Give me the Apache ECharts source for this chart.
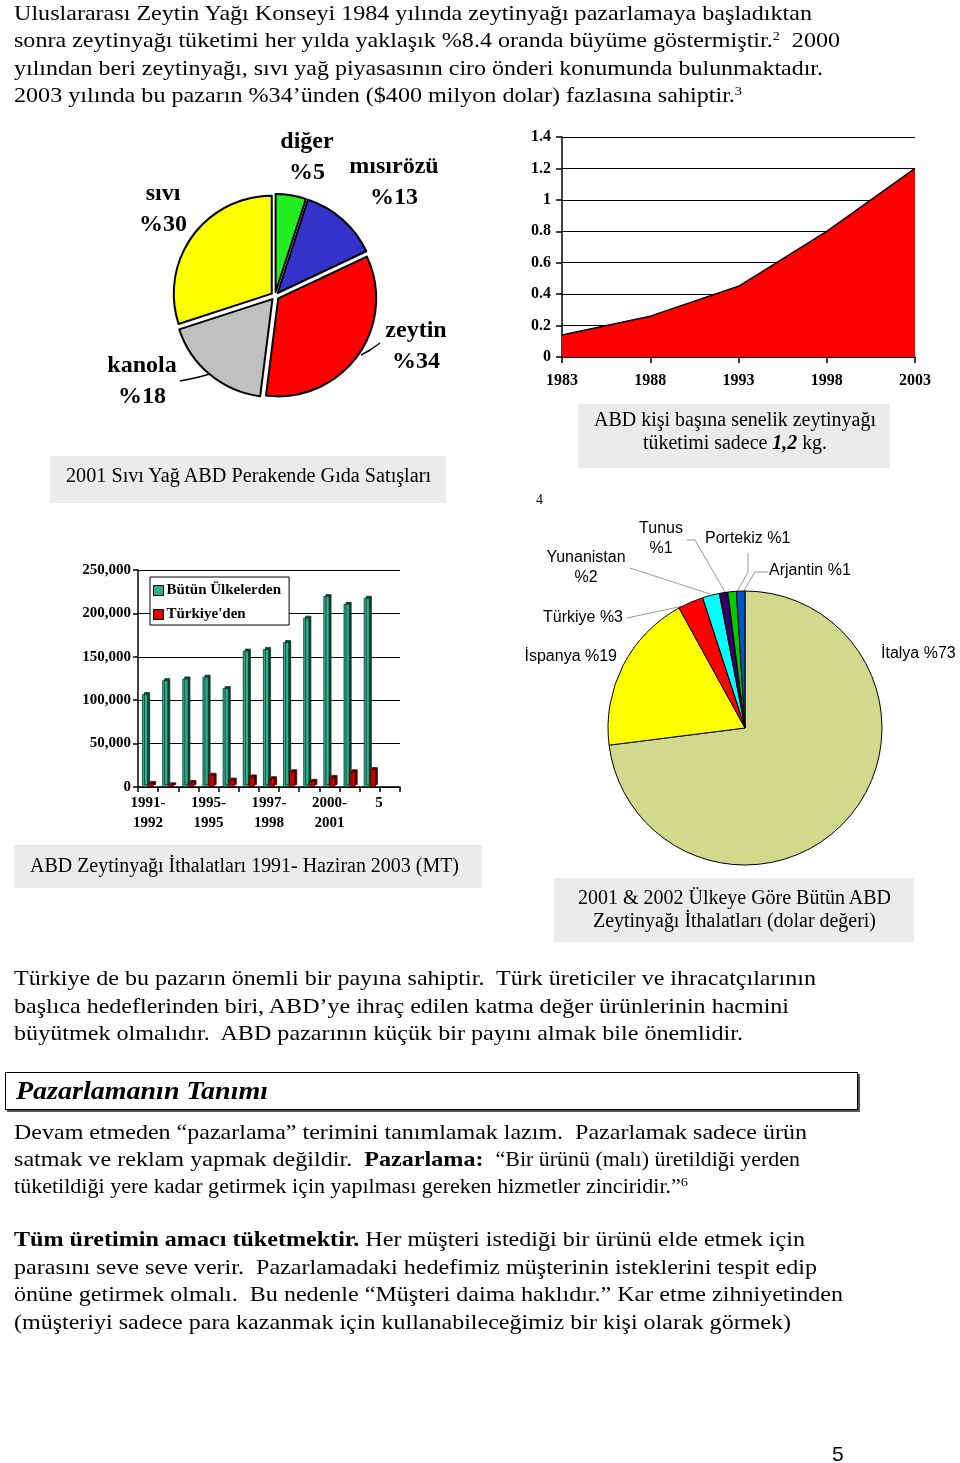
<!DOCTYPE html>
<html><head><meta charset="utf-8">
<script src="https://cdn.jsdelivr.net/npm/echarts@6/dist/echarts.min.js"></script>
<style>
html,body{margin:0;padding:0;background:#fff;}
#page{position:relative;width:960px;height:1463px;overflow:hidden;background:#fff;}
#chart{position:absolute;left:0;top:0;width:960px;height:1463px;}
#txt{position:absolute;left:0;top:0;width:960px;height:1463px;pointer-events:none;}
.ln{position:absolute;white-space:pre;transform-origin:0 50%;font-family:'Liberation Serif','Times New Roman',serif;color:#000;}
.sup{position:relative;top:-0.55em;font-size:13px;}
.box{position:absolute;background:#ebebeb;}
.hbox{position:absolute;border:1.5px solid #000;box-shadow:2px 2px 0 #555;background:#fff;}
</style></head><body>
<div id="page"><div id="chart"></div><div id="txt"></div></div>
<script>
// ---------- DATA ----------
const oilCategories = ['diğer', 'mısırözü', 'zeytin', 'kanola', 'sıvı'];
const oilShares = [5, 13, 34, 18, 30];

const consYears = ['1983', '1988', '1993', '1998', '2003'];
const consValues = [0.14, 0.26, 0.45, 0.80, 1.20];

const importSlots = ['s1','s2','s3','s4','s5','s6','s7','s8','s9','s10','s11','s12','s13'];
const importTickLabels = ['1991-\n1992','','','1995-\n1995','','','1997-\n1998','','','2000-\n2001','','','5'];
const importAllSeriesName = 'Bütün Ülkelerden';
const importTurkeySeriesName = "Türkiye'den";
const importAll = [107000, 123000, 125000, 127000, 114000, 157000, 159000, 167000, 195000, 220000, 211000, 218000, null];
const importTurkey = [4600, 3000, 5700, 14000, 8400, 12000, 10000, 18000, 7000, 11500, 18000, 20500, null];

const countryNames = ['İtalya', 'İspanya', 'Türkiye', 'Yunanistan', 'Tunus', 'Portekiz', 'Arjantin'];
const countryShares = [73, 19, 3, 2, 1, 1, 1];

const bodyText = [
  'Uluslararası Zeytin Yağı Konseyi 1984 yılında zeytinyağı pazarlamaya başladıktan',
  'sonra zeytinyağı tüketimi her yılda yaklaşık %8.4 oranda büyüme göstermiştir.<span class="sup">2</span>  2000',
  'yılından beri zeytinyağı, sıvı yağ piyasasının ciro önderi konumunda bulunmaktadır.',
  '2003 yılında bu pazarın %34’ünden ($400 milyon dolar) fazlasına sahiptir.<span class="sup">3</span>',
  'Türkiye de bu pazarın önemli bir payına sahiptir.  Türk üreticiler ve ihracatçılarının',
  'başlıca hedeflerinden biri, ABD’ye ihraç edilen katma değer ürünlerinin hacmini',
  'büyütmek olmalıdır.  ABD pazarının küçük bir payını almak bile önemlidir.',
  '<b><i>Pazarlamanın Tanımı</i></b>',
  'Devam etmeden “pazarlama” terimini tanımlamak lazım.  Pazarlamak sadece ürün',
  'satmak ve reklam yapmak değildir.  <b>Pazarlama:</b>  <span style="font-size:20px">“Bir ürünü (malı) üretildiği yerden</span>',
  'tüketildiği yere kadar getirmek için yapılması gereken hizmetler zinciridir.”<span class="sup">6</span>',
  '<b>Tüm üretimin amacı tüketmektir.</b> Her müşteri istediği bir ürünü elde etmek için',
  'parasını seve seve verir.  Pazarlamadaki hedefimiz müşterinin isteklerini tespit edip',
  'önüne getirmek olmalı.  Bu nedenle “Müşteri daima haklıdır.” Kar etme zihniyetinden',
  '(müşteriyi sadece para kazanmak için kullanabileceğimiz bir kişi olarak görmek)',
  '2001 Sıvı Yağ ABD Perakende Gıda Satışları',
  'ABD kişi başına senelik zeytinyağı',
  'tüketimi sadece <b><i>1,2</i></b> kg.',
  'ABD Zeytinyağı İthalatları 1991- Haziran 2003 (MT)',
  '2001 &amp; 2002 Ülkeye Göre Bütün ABD',
  'Zeytinyağı İthalatları (dolar değeri)'
];

// ---------- LAYOUT (positions / sizes) ----------
// [left, centerY, width, fontSize]
const bodyLayout = [
  [14, 13, 798, 22], [14, 40, 826, 22], [14, 68, 809, 22], [14, 95, 728, 22],
  [14, 978, 802, 22], [14, 1006, 775, 22], [14, 1033, 729, 22],
  [16, 1091, 252, 26],
  [14, 1132, 793, 22], [14, 1159, 786, 22], [14, 1186, 674, 20],
  [14, 1239, 791, 22], [14, 1267, 803, 22], [14, 1294, 829, 22], [14, 1322, 777, 22],
  [66, 475, 365, 20],
  [594, 419, 282, 20], [643, 442, 184, 20],
  [30, 865, 429, 20],
  [578, 897, 313, 20], [593, 920, 283, 20]
];
const grayBoxes = [[50, 456, 396, 47], [578, 404, 312, 64], [14, 845, 468, 43], [554, 878, 360, 64]];

const txt = document.getElementById('txt');
grayBoxes.forEach(b => {
  const d = document.createElement('div');
  d.className = 'box';
  d.style.cssText = `left:${b[0]}px;top:${b[1]}px;width:${b[2]}px;height:${b[3]}px;`;
  txt.appendChild(d);
});
const hb = document.createElement('div');
hb.className = 'hbox';
hb.style.cssText = 'left:5px;top:1072px;width:851px;height:36px;';
txt.appendChild(hb);

const lineEls = [];
bodyText.forEach((t, i) => {
  const L = bodyLayout[i];
  const d = document.createElement('div');
  d.className = 'ln';
  d.innerHTML = t;
  d.style.left = L[0] + 'px';
  d.style.top = (L[1] - L[3] / 2) + 'px';
  d.style.fontSize = L[3] + 'px';
  d.style.lineHeight = L[3] + 'px';
  txt.appendChild(d);
  lineEls.push([d, L[2]]);
});
const small = [['4', 536, 500, 14, "'Liberation Serif',serif"], ['5', 832, 1453, 21, "'Liberation Sans',Arial,sans-serif"]];
small.forEach(s => {
  const d = document.createElement('div');
  d.className = 'ln';
  d.textContent = s[0];
  d.style.cssText += `left:${s[1]}px;top:${s[2] - s[3] / 2}px;font-size:${s[3]}px;line-height:${s[3]}px;font-family:${s[4]};`;
  txt.appendChild(d);
});
lineEls.forEach(([d, w]) => {
  const cw = d.getBoundingClientRect().width;
  if (cw > 0) d.style.transform = `scaleX(${w / cw})`;
});

// ---------- CHART ----------
const serif = "'Liberation Serif','Times New Roman',serif";
const sans = "'Liberation Sans',Arial,sans-serif";

const oilColors = ['#22ee22', '#3333cc', '#ff0000', '#c0c0c0', '#ffff00'];
// label block centres (two lines)
const oilLabelPos = [[307, 157], [394, 182], [416, 346], [142, 381], [163, 209]];
const oilLabelLines = [null, null, [[361, 355], [370, 350], [380, 343]], [[210, 374], [195, 378], [180, 381]], null];

const countryColors = ['#d0d98c', '#ffff00', '#ff0000', '#00ffff', '#330066', '#00cc00', '#0055cc'];
const countryLabelPos = [[881, 654, 'left'], [617, 657, 'right'], [623, 618, 'right'], [586, 568, 'center'], [661, 539, 'center'], [705, 539, 'left'], [769, 571, 'left']];
const countryLabelTwoLine = [false, false, false, true, true, false, false];
const countryLabelLines = [null, null,
  [[683, 606], [655, 612], [627, 618]],
  [[710, 594], [670, 581], [630, 568]],
  [[725, 592], [695, 540], [687, 540]],
  [[737, 592], [748, 572], [748, 553]],
  [[743, 592], [755, 572], [768, 572]]];

const chart = echarts.init(document.getElementById('chart'), null, {renderer: 'canvas', width: 960, height: 1463});

const oilGraphics = [];
oilCategories.forEach((n, i) => {
  oilGraphics.push({type: 'text', z: 10, style: {
    text: n + '\n%' + oilShares[i], x: oilLabelPos[i][0], y: oilLabelPos[i][1],
    align: 'center', verticalAlign: 'middle', lineHeight: 31,
    font: 'bold 24px ' + serif, fill: '#000'}});
  if (oilLabelLines[i]) oilGraphics.push({type: 'polyline', z: 10,
    shape: {points: oilLabelLines[i], smooth: 0.3}, style: {stroke: '#000', lineWidth: 1.5, fill: null}});
});

const blackLine = {lineStyle: {color: '#000', width: 1.5}};
const option = {
  animation: false,
  textStyle: {fontFamily: serif},
  graphic: oilGraphics,
  grid: [
    {left: 562, top: 137, width: 353, height: 220},
    {left: 138, top: 570, width: 262, height: 217}
  ],
  xAxis: [
    {gridIndex: 0, type: 'category', data: consYears, boundaryGap: false,
      axisLine: blackLine, axisTick: {show: true, length: 6, lineStyle: {color: '#000', width: 1.5}},
      axisLabel: {color: '#000', fontFamily: serif, fontWeight: 'bold', fontSize: 16, margin: 16},
      splitLine: {show: false}},
    {gridIndex: 1, type: 'category', data: importSlots,
      axisLine: blackLine, axisTick: {show: true, interval: 0, length: 5, lineStyle: {color: '#000', width: 1.5}},
      axisLabel: {interval: 0,
        formatter: (v, i) => (i === importTickLabels.length - 1 && importTickLabels[i]) ? '{last|' + importTickLabels[i] + '}' : importTickLabels[i],
        rich: {last: {padding: [0, 22, 0, 0], fontFamily: serif, fontWeight: 'bold', fontSize: 15, color: '#000'}},
        color: '#000', fontFamily: serif, fontWeight: 'bold', fontSize: 15, lineHeight: 20, margin: 6},
      splitLine: {show: false}}
  ],
  yAxis: [
    {gridIndex: 0, type: 'value', min: 0, max: 1.4, interval: 0.2,
      axisLine: {show: true, lineStyle: {color: '#000', width: 1.5}},
      axisTick: {show: true, length: 6, lineStyle: {color: '#000', width: 1.5}},
      axisLabel: {color: '#000', fontFamily: serif, fontWeight: 'bold', fontSize: 16, margin: 11},
      splitLine: {show: true, lineStyle: {color: '#000', width: 1.2}}},
    {gridIndex: 1, type: 'value', min: 0, max: 250000, interval: 50000,
      axisLine: {show: true, lineStyle: {color: '#000', width: 1.5}},
      axisTick: {show: true, length: 5, lineStyle: {color: '#000', width: 1.5}},
      axisLabel: {color: '#000', fontFamily: serif, fontWeight: 'bold', fontSize: 15, margin: 7,
        formatter: v => v.toLocaleString('en-US')},
      splitLine: {show: true, lineStyle: {color: '#000', width: 1}}}
  ],
  legend: {
    data: [importAllSeriesName, importTurkeySeriesName],
    orient: 'vertical', left: 150, top: 577,
    backgroundColor: '#fff', borderColor: '#000', borderWidth: 1,
    padding: [6, 8, 3, 3], itemGap: 9, itemWidth: 10, itemHeight: 10, icon: 'rect',
    selectedMode: false,
    itemStyle: {shadowColor: 'transparent', borderColor: '#000', borderWidth: 1},
    textStyle: {fontFamily: serif, fontWeight: 'bold', fontSize: 15, color: '#000', padding: [0, 0, 0, -2]}
  },
  series: [
    {type: 'line', xAxisIndex: 0, yAxisIndex: 0, data: consValues, symbol: 'none',
      lineStyle: {color: '#000', width: 1.5}, areaStyle: {color: '#ff0000', opacity: 1},
      itemStyle: {color: '#ff0000'}},
    {type: 'bar', name: importAllSeriesName, xAxisIndex: 1, yAxisIndex: 1, data: importAll,
      barWidth: 6, barGap: '0%',
      itemStyle: {color: '#2fb08a', borderColor: '#0c3b2e', borderWidth: 0.8,
        shadowColor: '#0d3d2f', shadowOffsetX: 2, shadowOffsetY: -2, shadowBlur: 0}},
    {type: 'bar', name: importTurkeySeriesName, xAxisIndex: 1, yAxisIndex: 1, data: importTurkey,
      barWidth: 6, barGap: '0%',
      itemStyle: {color: '#e00000', borderColor: '#3a0000', borderWidth: 0.8,
        shadowColor: '#4a0000', shadowOffsetX: 2, shadowOffsetY: -2, shadowBlur: 0}},
    {type: 'pie', center: [275, 296], radius: 98, startAngle: 90, clockwise: true,
      avoidLabelOverlap: false, selectedMode: 'multiple', selectedOffset: 4,
      emphasis: {disabled: true},
      itemStyle: {borderColor: '#000', borderWidth: 2},
      select: {itemStyle: {borderColor: '#000', borderWidth: 2}},
      label: {show: false}, labelLine: {show: false},
      data: oilCategories.map((n, i) => ({name: n, value: oilShares[i], selected: true,
        itemStyle: {color: oilColors[i]}}))},
    {type: 'pie', center: [745, 728], radius: 137, startAngle: 90, clockwise: true,
      avoidLabelOverlap: false, emphasis: {disabled: true},
      itemStyle: {borderColor: '#000', borderWidth: 1},
      label: {show: true, position: 'outside',
        formatter: p => p.name + (countryLabelTwoLine[p.dataIndex] ? '\n' : ' ') + '%' + p.value,
        fontFamily: sans, fontSize: 16, lineHeight: 20, color: '#000', align: 'center'},
      labelLine: {show: true, lineStyle: {color: '#999', width: 1}},
      labelLayout: p => {
        const P = countryLabelPos[p.dataIndex];
        const r = {x: P[0], y: P[1], align: P[2], verticalAlign: 'middle'};
        if (countryLabelLines[p.dataIndex]) r.labelLinePoints = countryLabelLines[p.dataIndex];
        return r;
      },
      data: countryNames.map((n, i) => ({name: n, value: countryShares[i],
        itemStyle: {color: countryColors[i]}, labelLine: {show: !!countryLabelLines[i]}}))}
  ]
};
chart.setOption(option);
</script>
</body></html>
